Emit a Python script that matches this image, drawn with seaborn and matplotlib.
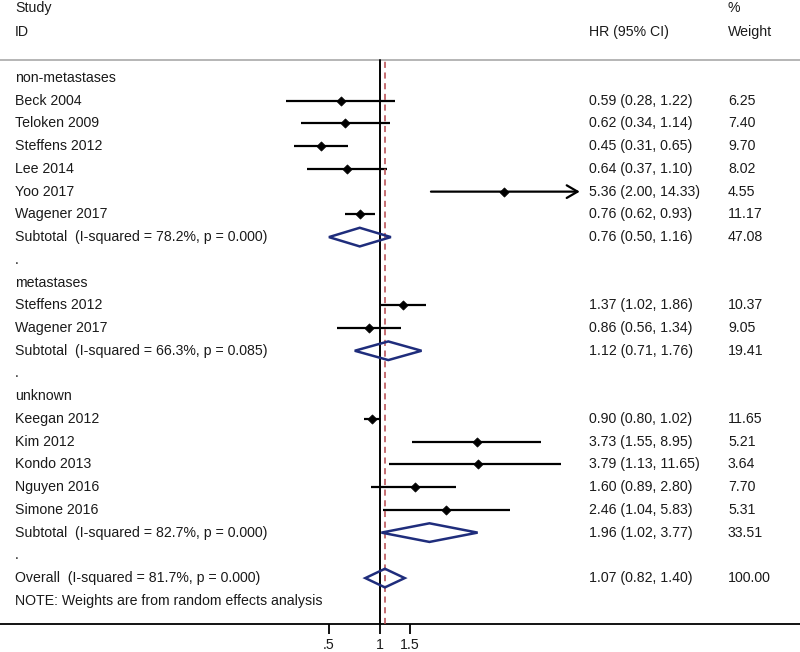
import numpy as np
import pandas as pd
import matplotlib
matplotlib.use("Agg")
import matplotlib.pyplot as plt
from matplotlib.patches import Polygon, FancyArrowPatch
import seaborn as sns

sns.set_theme(style="white")
plt.rcParams['font.family'] = ['Liberation Sans', 'DejaVu Sans']

# study level data
groups = ["non-metastases", "metastases", "unknown"]
study = ["Beck 2004", "Teloken 2009", "Steffens 2012", "Lee 2014", "Yoo 2017", "Wagener 2017",
         "Steffens 2012", "Wagener 2017",
         "Keegan 2012", "Kim 2012", "Kondo 2013", "Nguyen 2016", "Simone 2016"]
group = ["non-metastases"] * 6 + ["metastases"] * 2 + ["unknown"] * 5
hr = [0.59, 0.62, 0.45, 0.64, 5.36, 0.76, 1.37, 0.86, 0.90, 3.73, 3.79, 1.60, 2.46]
lo = [0.28, 0.34, 0.31, 0.37, 2.00, 0.62, 1.02, 0.56, 0.80, 1.55, 1.13, 0.89, 1.04]
hi = [1.22, 1.14, 0.65, 1.10, 14.33, 0.93, 1.86, 1.34, 1.02, 8.95, 11.65, 2.80, 5.83]
weight = [6.25, 7.40, 9.70, 8.02, 4.55, 11.17, 10.37, 9.05, 11.65, 5.21, 3.64, 7.70, 5.31]

# subgroup pooled estimates
sub_i2 = ["78.2", "66.3", "82.7"]
sub_p = ["0.000", "0.085", "0.000"]
sub_hr = [0.76, 1.12, 1.96]
sub_lo = [0.50, 0.71, 1.02]
sub_hi = [1.16, 1.76, 3.77]
sub_w = [47.08, 19.41, 33.51]

# overall
all_hr, all_lo, all_hi, all_w = 1.07, 0.82, 1.40, 100.00
all_i2, all_p = "81.7", "0.000"

ci_clip = 14.0   # CIs reaching past this get an arrow
arrow_tip = 15.1

df = pd.DataFrame(dict(study=study, group=group, hr=hr, lo=lo, hi=hi, weight=weight))

# lay out rows
rows = []          # (y, label, kind, index)
y = 0
for k, g in enumerate(groups):
    rows.append((y, g, "header", None)); y += 1
    for i in df.index[df.group == g]:
        df.loc[i, "y"] = y
        rows.append((y, study[i], "study", i)); y += 1
    rows.append((y, f"Subtotal  (I-squared = {sub_i2[k]}%, p = {sub_p[k]})", "sub", k)); y += 1
    rows.append((y, ".", "dot", None)); y += 1
rows.append((y, f"Overall  (I-squared = {all_i2}%, p = {all_p})", "all", None)); y += 1
rows.append((y, "NOTE: Weights are from random effects analysis", "note", None))

fig = plt.figure(figsize=(8, 6.52), dpi=100)
ax = fig.add_axes([0, 28 / 652, 1, 624 / 652])
ax.set_xscale("log")
ax.set_xlim(0.00573, 301)
ax.set_ylim(24.02, -3.43)

txt = dict(fontsize=10.2, color="#1a1a1a", va="center")
tr = ax.get_yaxis_transform()
x_lab, x_hr, x_w = 15 / 800, 589 / 800, 728 / 800

ax.text(x_lab, -3.08, "Study", transform=tr, **txt)
ax.text(x_lab, -2.02, "ID", transform=tr, **txt)
ax.text(x_hr, -2.02, "HR (95% CI)", transform=tr, **txt)
ax.text(x_w, -3.08, "%", transform=tr, **txt)
ax.text(x_w, -2.02, "Weight", transform=tr, **txt)
ax.axhline(-0.79, color="#b0b0b0", lw=1.3)

navy = "#1f2d7c"
h = 0.41
for yy, label, kind, idx in rows:
    ax.text(x_lab, yy, label, transform=tr, **txt)
    if kind == "study":
        r = df.loc[idx]
        ax.text(x_hr, yy, f"{r.hr:.2f} ({r.lo:.2f}, {r.hi:.2f})", transform=tr, **txt)
        ax.text(x_w, yy, f"{r.weight:.2f}", transform=tr, **txt)
        if r.hi > ci_clip:
            # CI runs off the plot: open arrow head at the clip point
            ax.add_patch(FancyArrowPatch((r.lo, yy), (arrow_tip, yy),
                                         arrowstyle="->,head_length=0.6,head_width=0.35",
                                         mutation_scale=13, lw=1.6, color="black",
                                         shrinkA=0, shrinkB=0, zorder=4))
        else:
            ax.hlines(yy, r.lo, r.hi, color="black", lw=1.6)
    elif kind in ("sub", "all"):
        if kind == "sub":
            e, l, u, w = sub_hr[idx], sub_lo[idx], sub_hi[idx], sub_w[idx]
        else:
            e, l, u, w = all_hr, all_lo, all_hi, all_w
        ax.text(x_hr, yy, f"{e:.2f} ({l:.2f}, {u:.2f})", transform=tr, **txt)
        ax.text(x_w, yy, f"{w:.2f}", transform=tr, **txt)
        ax.add_patch(Polygon([(l, yy), (e, yy - h), (u, yy), (e, yy + h)],
                             closed=True, fill=False, ec=navy, lw=1.8, zorder=4))

sns.scatterplot(data=df, x="hr", y="y", marker="D", color="black", s=22,
                edgecolor="black", linewidth=0.5, ax=ax, zorder=5, legend=False)

top = 1 - 60 / 624
ax.axvline(1, ymin=0, ymax=top, color="black", lw=1.4, zorder=3)
ax.axvline(all_hr, ymin=0, ymax=top, color="#b5474b", lw=1.1, ls=(0, (4, 3)), zorder=3)

for s in ["top", "left", "right"]:
    ax.spines[s].set_visible(False)
ax.spines["bottom"].set_color("black")
ax.spines["bottom"].set_linewidth(1.3)
ax.set_xticks([0.5, 1, 1.5])
ax.set_xticklabels([".5", "1", "1.5"])
ax.xaxis.set_minor_locator(matplotlib.ticker.NullLocator())
ax.tick_params(axis="x", direction="out", length=7, width=1.3, color="black",
               labelsize=10.2, labelcolor="#1a1a1a", pad=3, bottom=True)
ax.set_yticks([])
ax.set_xlabel("")
ax.set_ylabel("")

fig.savefig("out.png", dpi=100)
